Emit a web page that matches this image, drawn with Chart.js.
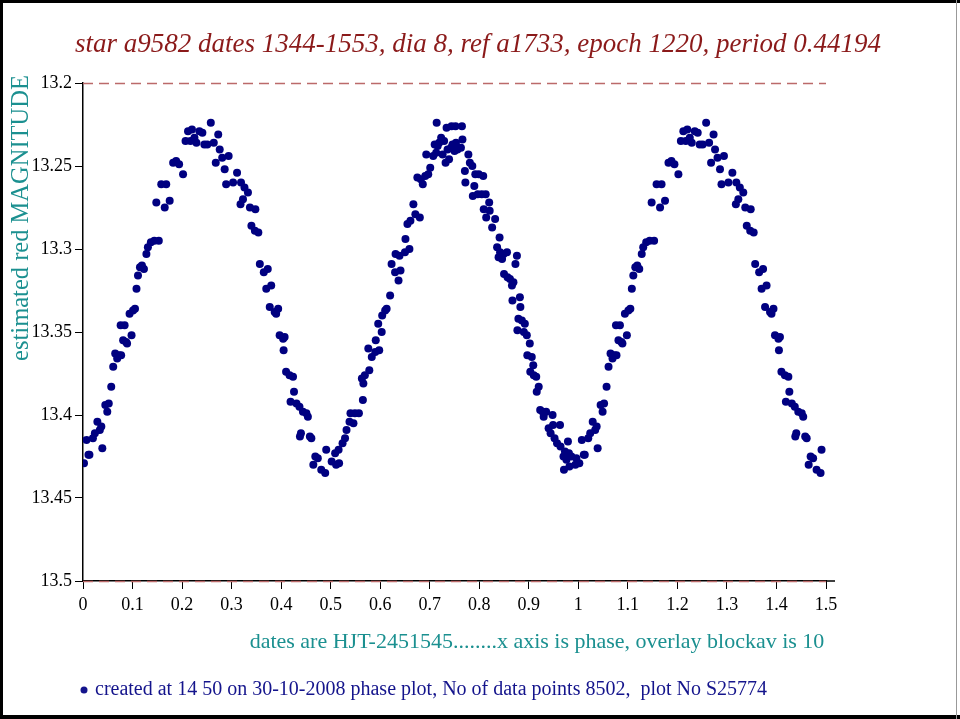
<!DOCTYPE html>
<html lang="en">
<head>
    <meta charset="UTF-8">
    <title>star a9582 phase plot</title>
    <script src="https://cdn.jsdelivr.net/npm/chart.js"></script>
    <style>
        html, body { margin: 0; padding: 0; background: #fff; }
        canvas { display: block; }
    </style>
</head>
<body>
    <canvas id="chart" width="960" height="719"></canvas>

    <script>
        // phase (0..1) and estimated red magnitude
        const phase = [
            0.002, 0.007, 0.011, 0.013, 0.020, 0.024, 0.029, 0.034, 0.037, 0.039,
            0.045, 0.049, 0.052, 0.057, 0.061, 0.065, 0.069, 0.073, 0.076, 0.077,
            0.081, 0.084, 0.087, 0.089, 0.094, 0.098, 0.101, 0.105, 0.108, 0.111,
            0.115, 0.119, 0.123, 0.128, 0.131, 0.137, 0.144, 0.148, 0.153, 0.158,
            0.165, 0.168, 0.175, 0.182, 0.188, 0.194, 0.202, 0.207, 0.212, 0.217,
            0.220, 0.225, 0.229, 0.235, 0.241, 0.245, 0.251, 0.258, 0.264, 0.268,
            0.273, 0.276, 0.281, 0.286, 0.289, 0.294, 0.303, 0.311, 0.318, 0.319,
            0.323, 0.326, 0.333, 0.337, 0.340, 0.347, 0.348, 0.354, 0.357, 0.365,
            0.370, 0.373, 0.377, 0.380, 0.387, 0.390, 0.394, 0.397, 0.404, 0.405,
            0.407, 0.410, 0.417, 0.419, 0.424, 0.426, 0.431, 0.437, 0.438, 0.440,
            0.444, 0.451, 0.454, 0.458, 0.461, 0.465, 0.469, 0.474, 0.481, 0.489,
            0.491,
            0.502, 0.509, 0.511, 0.516, 0.517, 0.524, 0.529, 0.532, 0.538, 0.540,
            0.546, 0.549, 0.557, 0.563, 0.565, 0.566, 0.569, 0.576, 0.578, 0.583,
            0.590, 0.591, 0.596, 0.598, 0.603, 0.604, 0.610, 0.613, 0.620, 0.623,
            0.630, 0.631, 0.637, 0.639, 0.641, 0.650, 0.651, 0.655, 0.659, 0.661,
            0.667, 0.671, 0.675, 0.680, 0.682, 0.686, 0.691, 0.693, 0.697, 0.701,
            0.707, 0.710, 0.713, 0.714, 0.716, 0.719, 0.723, 0.726, 0.729, 0.732,
            0.734, 0.736, 0.739, 0.743, 0.744, 0.746, 0.750, 0.752, 0.753, 0.756,
            0.763, 0.765, 0.766, 0.771, 0.772, 0.778, 0.781, 0.786, 0.787, 0.790,
            0.792, 0.797, 0.799, 0.805, 0.808, 0.809, 0.813, 0.814, 0.820, 0.821,
            0.826, 0.832, 0.836, 0.839, 0.841, 0.842, 0.846, 0.849, 0.850, 0.856,
            0.857, 0.862, 0.866, 0.867, 0.869, 0.873, 0.876, 0.877, 0.879, 0.882,
            0.883, 0.886, 0.890, 0.892, 0.896, 0.897, 0.902, 0.903, 0.906, 0.909,
            0.910, 0.915, 0.916, 0.920, 0.923, 0.928, 0.930, 0.935, 0.940, 0.944,
            0.948, 0.949, 0.952, 0.957, 0.963, 0.964, 0.970, 0.971, 0.973, 0.976,
            0.979, 0.981, 0.982, 0.986, 0.994, 0.996
        ];
        const magnitude = [
            13.429, 13.415, 13.424, 13.424, 13.414, 13.411, 13.404, 13.409, 13.407, 13.420,
            13.394, 13.398, 13.393, 13.383, 13.371, 13.363, 13.366, 13.364, 13.346, 13.364,
            13.355, 13.346, 13.356, 13.357, 13.339, 13.352, 13.337, 13.336, 13.324, 13.316,
            13.311, 13.310, 13.312, 13.303, 13.299, 13.296, 13.295, 13.272, 13.295, 13.261,
            13.275, 13.261, 13.271, 13.248, 13.247, 13.249, 13.255, 13.235, 13.229, 13.235,
            13.228, 13.233, 13.236, 13.229, 13.230, 13.237, 13.237, 13.224, 13.236, 13.248,
            13.231, 13.240, 13.245, 13.252, 13.261, 13.244, 13.260, 13.254, 13.273, 13.260,
            13.270, 13.263, 13.266, 13.275, 13.286, 13.289, 13.276, 13.290, 13.309, 13.314,
            13.324, 13.312, 13.335, 13.322, 13.338, 13.339, 13.336, 13.352, 13.354, 13.361,
            13.353, 13.374, 13.376, 13.392, 13.377, 13.386, 13.393, 13.395, 13.413, 13.411,
            13.398, 13.399, 13.401, 13.413, 13.414, 13.430, 13.425, 13.426, 13.433, 13.435,
            13.421,
            13.428, 13.423, 13.430, 13.421, 13.429, 13.417, 13.414, 13.409, 13.404, 13.399,
            13.405, 13.399, 13.399, 13.378, 13.391, 13.381, 13.376, 13.360, 13.373, 13.365,
            13.362, 13.355, 13.345, 13.361, 13.350, 13.340, 13.337, 13.336, 13.328, 13.309,
            13.314, 13.303, 13.319, 13.304, 13.313, 13.302, 13.294, 13.285, 13.300, 13.283,
            13.273, 13.279, 13.257, 13.281, 13.258, 13.261, 13.256, 13.243, 13.255, 13.251,
            13.244, 13.237, 13.242, 13.224, 13.238, 13.236, 13.233, 13.243, 13.235, 13.248,
            13.227, 13.240, 13.246, 13.239, 13.226, 13.237, 13.241, 13.226, 13.236, 13.240,
            13.239, 13.226, 13.234, 13.253, 13.260, 13.243, 13.248, 13.250, 13.268, 13.262,
            13.255, 13.267, 13.255, 13.267, 13.256, 13.276, 13.267, 13.281, 13.272, 13.277,
            13.287, 13.282, 13.299, 13.305, 13.293, 13.302, 13.306, 13.303, 13.315, 13.302,
            13.317, 13.318, 13.322, 13.331, 13.320, 13.309, 13.304, 13.349, 13.342, 13.329,
            13.335, 13.343, 13.350, 13.345, 13.352, 13.364, 13.357, 13.374, 13.365, 13.370,
            13.376, 13.377, 13.386, 13.383, 13.397, 13.398, 13.401, 13.398, 13.408, 13.411,
            13.400, 13.406, 13.414, 13.417, 13.406, 13.419, 13.425, 13.433, 13.422, 13.427,
            13.416, 13.423, 13.431, 13.425, 13.430, 13.426
        ];

        const titleText = 'star a9582 dates 1344-1553, dia 8, ref a1733, epoch 1220, period 0.44194';
        const yTitle = 'estimated red MAGNITUDE';
        const xCaption = 'dates are HJT-2451545........x axis is phase, overlay blockav is 10';
        const footerText = 'created at 14 50 on 30-10-2008 phase plot, No of data points 8502,  plot No S25774';
        const limitLines = [13.2, 13.5];

        // phase plot is overlaid: every point is drawn again one cycle later, up to phase 1.5
        var points = [];
        for (let i = 0; i < phase.length; i++) {
            points.push({ x: phase[i], y: magnitude[i] });
            if (phase[i] + 1 <= 1.5) {
                points.push({ x: phase[i] + 1, y: magnitude[i] });
            }
        }

        const serif = '"Liberation Serif", "DejaVu Serif", serif';

        const decor = {
            id: 'decor',
            beforeDraw(chart) {
                const ctx = chart.ctx;
                ctx.save();
                ctx.fillStyle = '#fff';
                ctx.fillRect(0, 0, 960, 719);
                ctx.restore();
            },
            afterDraw(chart) {
                const ctx = chart.ctx;
                const xs = chart.scales.x;
                const ys = chart.scales.y;
                ctx.save();

                // dashed limit lines
                ctx.strokeStyle = '#bb6a6a';
                ctx.lineWidth = 1.5;
                ctx.setLineDash([10, 6]);
                limitLines.forEach(function (v) {
                    const py = Math.round(ys.getPixelForValue(v)) + 0.5;
                    ctx.beginPath();
                    ctx.moveTo(xs.getPixelForValue(0), py);
                    ctx.lineTo(xs.getPixelForValue(1.5), py);
                    ctx.stroke();
                });
                ctx.setLineDash([]);

                // x axis runs a little past 1.5
                ctx.strokeStyle = '#000';
                ctx.lineWidth = 1.5;
                ctx.beginPath();
                ctx.moveTo(xs.getPixelForValue(1.5), ys.bottom);
                ctx.lineTo(xs.getPixelForValue(1.5) + 9, ys.bottom);
                ctx.stroke();

                ctx.textAlign = 'center';
                ctx.textBaseline = 'middle';

                // title
                ctx.fillStyle = '#8b1a1a';
                ctx.font = 'italic 27px ' + serif;
                ctx.fillText(titleText, 478, 45);

                // y title
                ctx.fillStyle = '#1b9090';
                ctx.font = '24.5px ' + serif;
                ctx.save();
                ctx.translate(22, 218);
                ctx.rotate(-Math.PI / 2);
                ctx.fillText(yTitle, 0, 0);
                ctx.restore();

                // caption under x axis
                ctx.font = '22px ' + serif;
                ctx.fillText(xCaption, 537, 642);

                // footer
                ctx.fillStyle = '#14148c';
                ctx.beginPath();
                ctx.arc(84, 690, 3.5, 0, Math.PI * 2);
                ctx.fill();
                ctx.font = '20px ' + serif;
                ctx.textAlign = 'left';
                ctx.fillText(footerText, 95, 690);

                // frame
                ctx.fillStyle = '#000';
                ctx.fillRect(0, 0, 960, 3);
                ctx.fillRect(0, 0, 3, 719);
                ctx.fillRect(0, 715, 960, 4);
                ctx.fillStyle = '#999';
                ctx.fillRect(956, 0, 1, 719);
                ctx.restore();
            }
        };

        let myChart = new Chart('chart', {
            type: 'scatter',
            data: {
                datasets: [{
                    label: 'magnitude',
                    data: points,
                    backgroundColor: '#000080',
                    borderWidth: 0,
                    pointRadius: 4,
                    pointHoverRadius: 4
                }]
            },
            options: {
                responsive: false,
                animation: false,
                devicePixelRatio: 1,
                layout: {
                    padding: { left: 0, right: 134, top: 83, bottom: 0 }
                },
                scales: {
                    x: {
                        type: 'linear',
                        min: 0,
                        max: 1.5,
                        afterFit: function (scale) { scale.height = 138; },
                        ticks: {
                            stepSize: 0.1,
                            padding: 5,
                            color: '#000',
                            font: { family: serif, size: 18 },
                            callback: function (v) { return String(+v.toFixed(1)); }
                        },
                        grid: { drawOnChartArea: false, drawTicks: true, tickLength: 8, color: '#000', lineWidth: 1 },
                        border: { display: true, color: '#000', width: 1.5 }
                    },
                    y: {
                        type: 'linear',
                        reverse: true,
                        min: 13.2,
                        max: 13.5,
                        afterFit: function (scale) { scale.width = 83; },
                        ticks: {
                            stepSize: 0.05,
                            padding: 3,
                            color: '#000',
                            font: { family: serif, size: 18 },
                            callback: function (v) { return String(+v.toFixed(2)); }
                        },
                        grid: { drawOnChartArea: false, drawTicks: true, tickLength: 8, color: '#000', lineWidth: 1 },
                        border: { display: true, color: '#000', width: 1.5 }
                    }
                },
                plugins: {
                    legend: { display: false },
                    tooltip: { enabled: false },
                    title: { display: false }
                }
            },
            plugins: [decor]
        });
    </script>
</body>
</html>
